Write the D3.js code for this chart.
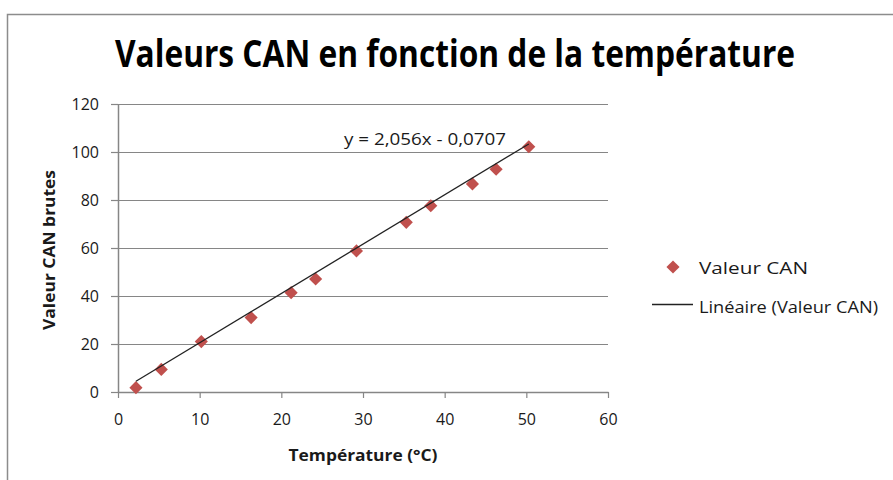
<!DOCTYPE html>
<html>
<head>
<meta charset="utf-8">
<script src="https://cdn.jsdelivr.net/npm/d3@7"></script>
<style>
  html, body { margin: 0; padding: 0; background: #fff; }
  svg { display: block; }
  text { font-family: "Open Sans", "Noto Sans", sans-serif; }
</style>
</head>
<body>
<svg id="chart" width="893" height="480"></svg>
<script>
// Mesures : température (°C) et valeur brute du CAN
const temperature = [2.2, 5.3, 10.2, 16.3, 21.2, 24.2, 29.2, 35.3, 38.3, 43.4, 46.3, 50.3];
const canValues   = [1.8, 9.4, 21.0, 31.0, 41.4, 47.1, 58.8, 70.7, 77.6, 86.7, 92.8, 102.2];

// Régression linéaire affichée
const slope = 2.056;
const intercept = -0.0707;
const equationLabel = "y = 2,056x - 0,0707";

const xTicks = [0, 10, 20, 30, 40, 50, 60];
const yTicks = [0, 20, 40, 60, 80, 100, 120];

const titleText = "Valeurs CAN en fonction de la température";
const xTitle = "Température (°C)";
const yTitle = "Valeur CAN brutes";
const legendLabels = ["Valeur CAN", "Linéaire (Valeur CAN)"];

const markerColor = "#C0504D";
const gridColor = "#868686";
const textColor = "#1a1a1a";

const svg = d3.select("#chart");

// cadre du graphique
svg.append("rect")
  .attr("x", 7.5).attr("y", 14.5)
  .attr("width", 900).attr("height", 480)
  .attr("fill", "#fff")
  .attr("stroke", "#8c8c8c").attr("stroke-width", 1.5);

const x = d3.scaleLinear().domain([0, 60]).range([118, 608]);
const y = d3.scaleLinear().domain([0, 120]).range([392, 104]);

// titre : gras étroit, légèrement étiré en hauteur
svg.append("text")
  .attr("transform", "translate(455,67) scale(1,1.12)")
  .attr("text-anchor", "middle")
  .attr("font-size", 33).attr("font-weight", 700)
  .attr("fill", "#000")
  .attr("textLength", 680).attr("lengthAdjust", "spacingAndGlyphs")
  .text(titleText);

// quadrillage horizontal
svg.append("g").selectAll("line")
  .data(yTicks.filter(d => d > 0))
  .join("line")
  .attr("x1", x(0) - 7).attr("x2", x(60))
  .attr("y1", d => Math.round(y(d)) + 0.5).attr("y2", d => Math.round(y(d)) + 0.5)
  .attr("stroke", gridColor).attr("stroke-width", 1.2);

// axe Y
const yAxis = svg.append("g")
  .attr("transform", `translate(${x(0)},0)`)
  .call(d3.axisLeft(y).tickValues(yTicks).tickSize(7).tickPadding(12).tickSizeOuter(0));
yAxis.select(".domain").attr("stroke", gridColor).attr("stroke-width", 1.5);
yAxis.selectAll(".tick line").attr("stroke", gridColor).attr("stroke-width", 1.2);
yAxis.selectAll(".tick text")
  .attr("font-size", 16).attr("fill", textColor)
  .attr("font-family", "'Open Sans', sans-serif");

// axe X
const xAxis = svg.append("g")
  .attr("transform", `translate(0,${y(0)})`)
  .call(d3.axisBottom(x).tickValues(xTicks).tickSize(6).tickPadding(16).tickSizeOuter(0));
xAxis.select(".domain").attr("stroke", gridColor).attr("stroke-width", 1.5);
xAxis.selectAll(".tick line").attr("stroke", gridColor).attr("stroke-width", 1.2);
xAxis.selectAll(".tick text")
  .attr("font-size", 16).attr("fill", textColor)
  .attr("font-family", "'Open Sans', sans-serif");

// titres des axes
svg.append("text")
  .attr("x", 363).attr("y", 461)
  .attr("text-anchor", "middle")
  .attr("font-size", 16).attr("font-weight", 700).attr("fill", textColor)
  .attr("textLength", 149).attr("lengthAdjust", "spacingAndGlyphs")
  .text(xTitle);

svg.append("text")
  .attr("transform", "translate(55,250) rotate(-90)")
  .attr("text-anchor", "middle")
  .attr("font-size", 16).attr("font-weight", 700).attr("fill", textColor)
  .attr("textLength", 160).attr("lengthAdjust", "spacingAndGlyphs")
  .text(yTitle);

// points de mesure
const points = temperature.map((t, i) => ({ t, v: canValues[i] }));
const diamond = d3.symbol().type(d3.symbolDiamond2).size(110);
svg.append("g").selectAll("path")
  .data(points)
  .join("path")
  .attr("transform", d => `translate(${x(d.t)},${y(d.v)})`)
  .attr("d", diamond)
  .attr("fill", markerColor);

// courbe de tendance linéaire
const tMin = d3.min(temperature), tMax = d3.max(temperature);
const trend = [tMin, tMax].map(t => ({ t, v: slope * t + intercept }));
svg.append("path")
  .datum(trend)
  .attr("d", d3.line().x(d => x(d.t)).y(d => y(d.v)))
  .attr("stroke", "#222").attr("stroke-width", 1.3).attr("fill", "none");

svg.append("text")
  .attr("x", 344).attr("y", 145)
  .attr("font-size", 16).attr("fill", textColor)
  .attr("textLength", 162).attr("lengthAdjust", "spacingAndGlyphs")
  .text(equationLabel);

// légende
const legend = svg.append("g");
legend.append("path")
  .attr("transform", "translate(673,267)")
  .attr("d", diamond)
  .attr("fill", markerColor);
legend.append("text")
  .attr("x", 699).attr("y", 274)
  .attr("font-size", 16).attr("fill", textColor)
  .attr("textLength", 109).attr("lengthAdjust", "spacingAndGlyphs")
  .text(legendLabels[0]);
legend.append("line")
  .attr("x1", 652).attr("x2", 693)
  .attr("y1", 304.5).attr("y2", 304.5)
  .attr("stroke", "#222").attr("stroke-width", 1.3);
legend.append("text")
  .attr("x", 699).attr("y", 313)
  .attr("font-size", 16).attr("fill", textColor)
  .attr("textLength", 179).attr("lengthAdjust", "spacingAndGlyphs")
  .text(legendLabels[1]);
</script>
</body>
</html>
